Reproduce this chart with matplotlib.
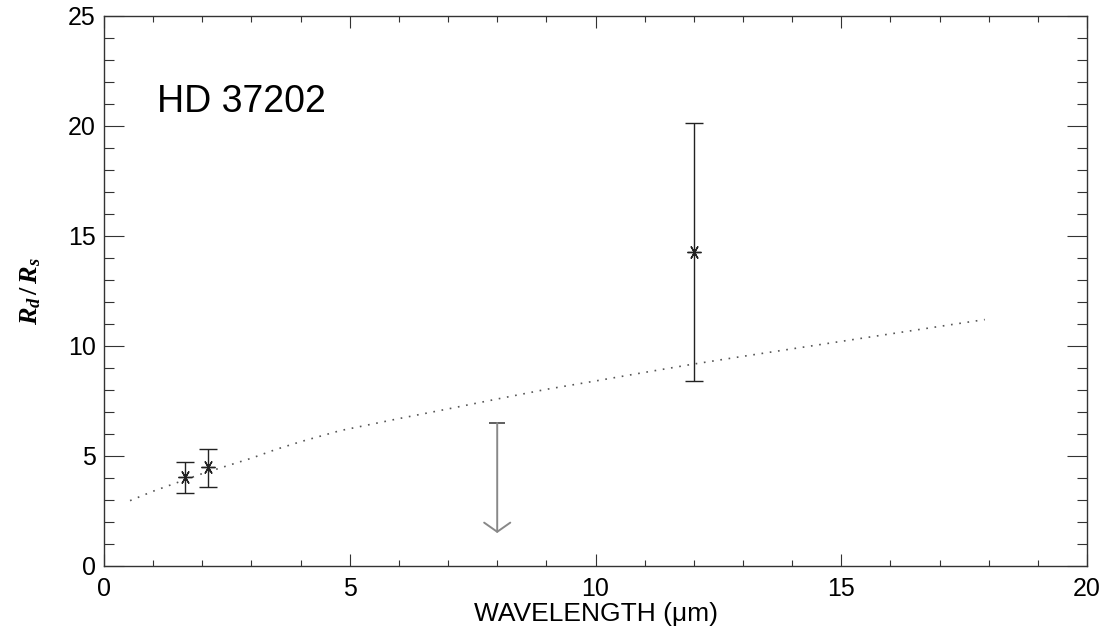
import matplotlib
matplotlib.use("Agg")
import matplotlib.pyplot as plt
from matplotlib.ticker import MultipleLocator

# measured points (wavelength in micron, Rd/Rs)
wl = [1.65, 2.12, 12.0]
ratio = [4.03, 4.49, 14.26]
err_lo = [0.73, 0.91, 5.84]
err_hi = [0.70, 0.84, 5.86]

# upper limit at 8 micron
lim_x = 8.0
lim_top = 6.5
lim_bottom = 1.5

# model curve (dotted)
model_x = [0.53, 1.0, 1.5, 2.0, 2.5, 3.0, 3.5, 4.0, 4.8, 6.0, 7.0, 8.0, 9.0,
           10.0, 11.0, 12.0, 13.0, 14.0, 15.0, 16.0, 17.0, 17.92]
model_y = [2.97, 3.40, 3.80, 4.20, 4.55, 4.90, 5.30, 5.65, 6.15, 6.70, 7.14,
           7.59, 8.03, 8.41, 8.80, 9.18, 9.53, 9.87, 10.21, 10.55, 10.89, 11.20]

plt.rcParams['font.family'] = ['Liberation Sans', 'DejaVu Sans']
plt.rcParams['mathtext.fontset'] = 'custom'
plt.rcParams['mathtext.it'] = 'Liberation Serif:italic:bold'
plt.rcParams['mathtext.rm'] = 'Liberation Serif:bold'

fig = plt.figure(figsize=(11.03, 6.27), dpi=100)
ax = fig.add_axes([0.0943, 0.0973, 0.8912, 0.8772])

ax.plot(model_x, model_y, color='#555555', lw=1.2, dashes=(1, 4))

ax.errorbar(wl, ratio, yerr=[err_lo, err_hi], fmt='none', ecolor='#222222',
            elinewidth=1.0, capsize=6.5, capthick=1.0)
ax.plot(wl, ratio, ls='none', marker=(6, 2, 90), ms=10, mew=1.0,
        color='#222222')

# upper limit: cap plus arrow
ax.plot([lim_x], [lim_top], marker='_', ms=11, mew=1.2, color='#444444')
ax.annotate('', xy=(lim_x, lim_bottom), xytext=(lim_x, lim_top),
            arrowprops=dict(arrowstyle='->,head_length=0.33,head_width=0.47',
                            color='#888888', lw=1.4, mutation_scale=20,
                            shrinkA=0, shrinkB=0))

ax.text(1.07, 20.65, 'HD 37202', fontsize=27, va='baseline', ha='left')

ax.set_xlim(0, 20)
ax.set_ylim(0, 25)
ax.xaxis.set_major_locator(MultipleLocator(5))
ax.xaxis.set_minor_locator(MultipleLocator(1))
ax.yaxis.set_major_locator(MultipleLocator(5))
ax.yaxis.set_minor_locator(MultipleLocator(1))

ax.tick_params(axis='both', which='both', direction='in', top=True,
               right=True, width=0.8, color='#333333', labelsize=18)
ax.tick_params(axis='x', which='major', length=8.6, pad=8)
ax.tick_params(axis='x', which='minor', length=4.3)
ax.tick_params(axis='y', which='major', length=14.4, pad=6)
ax.tick_params(axis='y', which='minor', length=7.2)

for s in ax.spines.values():
    s.set_linewidth(1.0)
    s.set_color('#333333')

ax.set_xlabel('WAVELENGTH (\u03bcm)', fontsize=19, labelpad=1)
ax.set_ylabel(r'$R_d\,/\,R_s$', fontsize=19, labelpad=18)

fig.savefig('out.png', dpi=100)
plt.close(fig)
